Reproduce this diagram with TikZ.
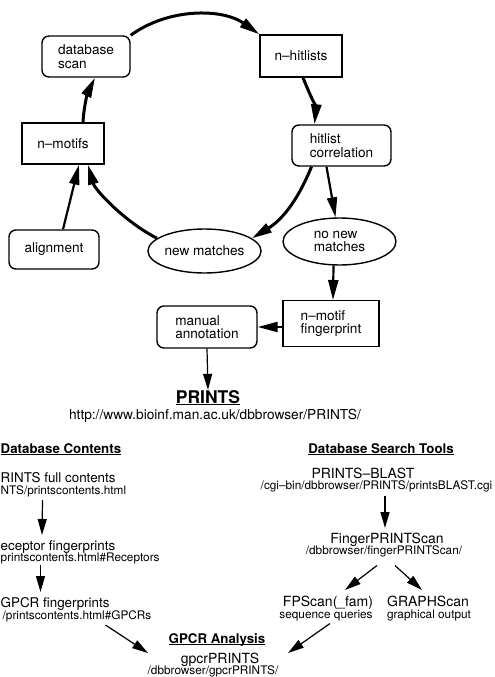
\documentclass[tikz,border=0pt]{standalone}
\usepackage{fontspec}
\setmainfont{TeX Gyre Heros}
\usetikzlibrary{arrows.meta,shapes.geometric}

\newsavebox{\hdbox}
\newcommand{\hdline}[2][1pt]{\sbox{\hdbox}{#2}\rlap{\rule[-2.2pt]{\wd\hdbox}{#1}}\usebox{\hdbox}}

\begin{document}
\begin{tikzpicture}[x=1pt,y=-1pt,
    box/.style={draw,line width=1.4pt,align=left,inner sep=0pt,font=\fontsize{13.6}{13.6}\selectfont},
    rbox/.style={box,rounded corners=7pt},
    oval/.style={box,ellipse},
    cyc/.style={line width=3pt,-{Triangle[length=20pt,width=10pt]}},
    fwd/.style={line width=2.2pt,-{Triangle[length=20pt,width=10pt]}},
    link/.style={line width=1.2pt,-{Triangle[length=16pt,width=9pt]}},
    ttl/.style={inner sep=0pt,font=\fontsize{14}{14}\selectfont},
    lttl/.style={inner sep=0pt,font=\fontsize{13.4}{13.4}\selectfont},
    sub/.style={inner sep=0pt,font=\fontsize{11.8}{11.8}\selectfont},
    head/.style={inner sep=0pt,font=\bfseries\fontsize{13.3}{13.3}\selectfont}]
    \useasboundingbox (0,0) rectangle (495,677);
    \clip (0,0) rectangle (495,677);

    %the search cycle
    \node[rbox,minimum width=88pt,minimum height=41pt] (dbscan) at (86,56.5) {database\\scan};
    \node[box,minimum width=82pt,minimum height=42pt] (hits) at (301,56) {n–hitlists};
    \node[box,minimum width=82pt,minimum height=41pt] (nmotifs) at (63,143.5) {n–motifs};
    \node[rbox,minimum width=99pt,minimum height=41pt] (hitcorr) at (341.5,145.5) {hitlist\\correlation};
    \node[rbox,minimum width=90pt,minimum height=39pt] (align) at (54,249.5) {alignment};
    \node[oval,minimum width=107pt,minimum height=44pt] (newm) at (204.5,251) {new matches};
    \node[oval,minimum width=113pt,minimum height=47pt] (nonew) at (339.5,241.5) {no new\\matches};
    \node[box,minimum width=96pt,minimum height=46pt] (nmfp) at (331,323.7) {n–motif\\fingerprint};
    \node[rbox,minimum width=100pt,minimum height=42pt] (manual) at (207,327) {manual\\annotation};

    \draw[cyc] (dbscan.north east) .. controls (168,8) and (222,8) .. (hits.north west);
    \draw[cyc] ([xshift=2pt]hits.south) .. controls (310,95) and (316,108) .. ([xshift=-27pt]hitcorr.north);
    \draw[cyc] ([xshift=-30pt]hitcorr.south) .. controls (300,195) and (285,218) .. (newm.15);
    \draw[cyc] (newm.165) .. controls (125,222) and (95,190) .. ([xshift=25pt]nmotifs.south);
    \draw[cyc] ([xshift=20pt]nmotifs.north) .. controls (84,105) and (88,92) .. ([xshift=9pt]dbscan.south);
    \draw[fwd] ([xshift=9pt]align.north) -- ([xshift=16pt]nmotifs.south);
    \draw[fwd] ([xshift=-15pt]hitcorr.south) -- ([xshift=-4pt]nonew.north);
    \draw[fwd] ([xshift=-6pt]nonew.south) -- ([xshift=2pt]nmfp.north);
    \draw[fwd] (nmfp.west |- manual.east) -- (manual.east);

    %the database and its urls
    \node[inner sep=0pt,anchor=base,font=\bfseries\fontsize{17.5}{17.5}\selectfont] (prints) at (208,403) {\hdline[1.4pt]{PRINTS}};
    \node[inner sep=0pt,anchor=base,font=\fontsize{13.7}{13.7}\selectfont] (printsurl) at (215,419) {http://www.bioinf.man.ac.uk/dbbrowser/PRINTS/};
    \draw[link] (manual.south) -- (prints.north);

    \node[head,anchor=base west] (dbhead) at (0.5,453) {\hdline{Database Contents}};
    \node[lttl,anchor=base west] (pfull) at (0.5,482) {RINTS full contents};
    \node[sub,anchor=base west] (pfullurl) at (0.5,494) {NTS/printscontents.html};
    \node[lttl,anchor=base west] (recep) at (0.5,550) {eceptor fingerprints};
    \node[sub,anchor=base west] (recepurl) at (0.5,561) {printscontents.html\#Receptors};
    \node[lttl,anchor=base west] (gpcrfp) at (0.5,607) {GPCR fingerprints};
    \node[sub,anchor=base west] (gpcrfpurl) at (2.5,619) {/printscontents.html\#GPCRs};

    \node[head,anchor=base] (tools) at (381,453) {\hdline{Database Search Tools}};
    \node[ttl,anchor=base] (blast) at (363,478) {PRINTS–BLAST};
    \node[sub,anchor=base] (blasturl) at (376.5,489.5) {/cgi–bin/dbbrowser/PRINTS/printsBLAST.cgi};
    \node[ttl,anchor=base] (fps) at (387,543) {FingerPRINTScan};
    \node[sub,anchor=base] (fpsurl) at (384,554.5) {/dbbrowser/fingerPRINTScan/};
    \node[ttl,anchor=base] (fpscan) at (328,606) {FPScan(\_fam)};
    \node[sub,anchor=base] (seqq) at (326,618.5) {sequence queries};
    \node[ttl,anchor=base] (graph) at (428,606) {GRAPHScan};
    \node[sub,anchor=base] (graphout) at (429,618.5) {graphical output};

    \node[head,anchor=base] (gpcrhead) at (217,643) {\hdline{GPCR Analysis}};
    \node[ttl,anchor=base] (gpcr) at (220,663) {gpcrPRINTS};
    \node[sub,anchor=base] (gpcrurl) at (213,674) {/dbbrowser/gpcrPRINTS/};

    \draw[link] ([xshift=42pt,yshift=-6pt]pfullurl.base west) -- ([xshift=41.5pt,yshift=15pt]recep.base west);
    \draw[link] ([xshift=40pt,yshift=-4pt]recepurl.base west) -- ([xshift=40pt,yshift=15pt]gpcrfp.base west);
    \draw[link] ([xshift=103pt,yshift=-6pt]gpcrfpurl.base west) -- ([xshift=-72pt,yshift=10pt]gpcr.base);
    \draw[link] ([xshift=8.5pt,yshift=-6pt]blasturl.base) -- ([xshift=-2pt,yshift=15pt]fps.base);
    \draw[link] ([xshift=-7pt,yshift=-11pt]fpsurl.base) -- ([yshift=16pt,xshift=17pt]fpscan.base);
    \draw[link] ([xshift=11pt,yshift=-11pt]fpsurl.base) -- ([yshift=16pt,xshift=-6pt]graph.base);
    \draw[link] ([xshift=4pt,yshift=-5pt]seqq.base) -- ([xshift=68pt,yshift=10pt]gpcr.base);
\end{tikzpicture}
\end{document}
